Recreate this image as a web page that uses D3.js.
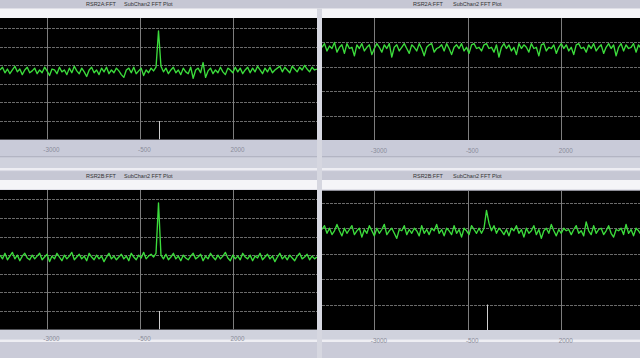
<!DOCTYPE html>
<html>
<head>
<meta charset="utf-8">
<script src="https://cdn.jsdelivr.net/npm/d3@7"></script>
<style>
  html, body { margin: 0; padding: 0; background: #cacbd8; }
  svg { display: block; font-family: "Liberation Sans", Arial, sans-serif; }
</style>
</head>
<body>
<div id="chart"></div>
<script>
// frequency ticks shared by all four plots
var tickHz = [-3000, -500, 2000];
var tickLabels = ["-3000", "-500", "2000"];
var markerHz = 0;

// horizontal grid levels (dB) for each plot
var gridTopLeft = [0, -20, -40, -60, -80, -100];
var gridBottomLeft = [20, 0, -20, -40, -60, -80, -100];
var gridTopRight = [-20, -40, -60, -80];
var gridBottomRight = [0, -20, -40, -60, -80];

// FFT levels (dB), one value per bin
var rsr2aLeft = [
  -45,-42,-48,-44,-49,-45,-41,-47,-44,-50,-45,-42,-48,-46,-43,-49,
  -45,-48,-42,-46,-51,-44,-45,-49,-42,-47,-45,-50,-43,-48,-41,-46,
  -49,-43,-47,-52,-45,-42,-48,-45,-50,-43,-47,-42,-49,-45,-48,-43,
  -46,-50,-53,-45,-43,-48,-42,-49,-46,-43,-51,-45,-48,-43,-46,-42,
   -3,-41,-47,-43,-49,-45,-42,-48,-45,-50,-43,-47,-49,-42,-54,-45,
  -43,-48,-37,-53,-46,-43,-49,-45,-48,-42,-47,-50,-43,-45,-48,-42,
  -47,-43,-49,-45,-42,-48,-43,-47,-41,-45,-49,-43,-47,-42,-48,-45,
  -43,-41,-47,-42,-45,-48,-41,-44,-47,-42,-45,-40,-44,-47,-42,-45,
  -44
];
var rsr2bLeft = [
  -40,-44,-38,-45,-41,-37,-44,-40,-46,-41,-38,-43,-45,-40,-44,-41,
  -38,-45,-42,-39,-47,-41,-44,-38,-42,-46,-40,-44,-41,-37,-45,-42,
  -39,-44,-41,-46,-38,-42,-45,-40,-44,-41,-47,-42,-38,-44,-41,-45,
  -42,-39,-44,-41,-46,-38,-42,-45,-40,-43,-37,-44,-41,-39,-42,-38,
   16,-40,-44,-39,-45,-42,-38,-44,-41,-46,-40,-43,-45,-41,-38,-44,
  -42,-39,-46,-41,-44,-38,-42,-45,-40,-44,-41,-37,-43,-46,-40,-44,
  -41,-45,-38,-42,-44,-40,-46,-41,-43,-38,-45,-42,-39,-44,-41,-47,
  -42,-38,-44,-41,-45,-40,-43,-46,-41,-38,-44,-42,-39,-45,-41,-44,
  -42
];
var rsr2aRight = [
  -24,-21,-27,-23,-25,-20,-28,-24,-22,-29,-21,-25,-24,-31,-22,-25,
  -21,-27,-24,-22,-30,-25,-21,-24,-28,-22,-25,-21,-32,-24,-22,-27,
  -24,-21,-25,-29,-22,-24,-27,-21,-25,-31,-24,-22,-21,-28,-25,-24,
  -22,-27,-21,-25,-30,-24,-22,-25,-21,-27,-24,-29,-22,-21,-25,-24,
  -27,-22,-21,-25,-24,-28,-22,-32,-24,-21,-25,-22,-27,-24,-30,-21,
  -25,-22,-24,-28,-21,-25,-24,-31,-22,-21,-27,-24,-25,-22,-29,-24,
  -21,-25,-22,-27,-24,-30,-22,-21,-25,-24,-28,-22,-25,-21,-27,-24,
  -22,-29,-24,-21,-25,-22,-31,-24,-21,-27,-22,-25,-24,-21,-28,-22,
  -25,-21,-27,-24,-22
];
var rsr2bRight = [
  -21,-18,-24,-20,-25,-22,-17,-22,-26,-20,-24,-21,-18,-25,-22,-20,
  -27,-21,-24,-18,-22,-26,-20,-24,-21,-17,-25,-22,-20,-24,-28,-21,
  -22,-18,-25,-21,-24,-20,-22,-26,-18,-24,-21,-25,-20,-22,-17,-24,
  -21,-26,-20,-22,-25,-18,-24,-21,-27,-20,-22,-25,-18,-21,-24,-20,
  -24,-20, -6,-16,-22,-18,-24,-20,-22,-25,-21,-26,-20,-22,-18,-24,
  -21,-27,-20,-24,-22,-18,-25,-21,-28,-22,-20,-24,-17,-22,-26,-21,
  -24,-20,-22,-21,-25,-21,-18,-24,-22,-26,-15,-22,-25,-18,-24,-21,
  -20,-25,-22,-18,-24,-27,-21,-22,-20,-25,-17,-24,-21,-26,-20,-22,
  -25,-21,-24,-20,-22
];

var W = 640, H = 358;

var svg = d3.select("#chart").append("svg")
    .attr("width", W)
    .attr("height", H);

// window chrome: title bars, white strips, label bands
function chrome(top){
  var bands = [
    { y: top,        h: 8.5,  c: "#c6c7d4" },
    { y: top + 8.5,  h: 9.5,  c: "#f5f5f8" },
    { y: top + 139.6,h: 16.4, c: "#c9cbd9" },
    { y: top + 156,  h: 1.5,  c: "#b3b5c3" },
    { y: top + 157.5,h: 10.5, c: "#d0d2dd" },
    { y: top + 168,  h: 2.5,  c: "#eeeef3" }
  ];
  svg.selectAll(null).data(bands).enter().append("rect")
      .attr("x", 0)
      .attr("y", function(d){ return d.y; })
      .attr("width", W)
      .attr("height", function(d){ return d.h; })
      .attr("fill", function(d){ return d.c; });
}
chrome(0);
chrome(171.5);

svg.append("rect")
    .attr("x", 317).attr("y", 8.5)
    .attr("width", 5).attr("height", H)
    .attr("fill", "#d6d7e0");

function fftPanel(o){
  var g = svg.append("g");
  var id = "clip" + o.key;

  var bin = d3.scaleLinear().domain([0, o.levels.length - 1]).range(o.hz);
  var x = d3.scaleLinear().domain(o.hz).range([o.x0, o.x1]);
  var y = d3.scaleLinear().domain(o.db).range([o.y1, o.y0]);
  var right = Math.min(o.x1, W);

  // title
  g.append("text")
      .attr("x", o.titleX).attr("y", o.titleY)
      .attr("font-size", "5.5px").attr("fill", "#333")
      .text(o.name);
  g.append("text")
      .attr("x", o.titleX + (o.x0 === 0 ? 38 : 40)).attr("y", o.titleY)
      .attr("font-size", "5.5px").attr("fill", "#333")
      .text("SubChan2 FFT Plot");

  g.append("clipPath").attr("id", id)
    .append("rect")
      .attr("x", o.x0).attr("y", o.y0)
      .attr("width", right - o.x0).attr("height", o.y1 - o.y0);

  g.append("rect")
      .attr("x", o.x0).attr("y", o.y0)
      .attr("width", right - o.x0).attr("height", o.y1 - o.y0)
      .attr("fill", "#000");

  var plot = g.append("g").attr("clip-path", "url(#" + id + ")");

  plot.selectAll(".hgrid").data(o.grid).enter().append("line")
      .attr("class", "hgrid")
      .attr("x1", o.x0).attr("x2", right)
      .attr("y1", function(d){ return Math.round(y(d)) + 0.5; })
      .attr("y2", function(d){ return Math.round(y(d)) + 0.5; })
      .attr("stroke", "#6a6a6a")
      .attr("stroke-dasharray", "3,1");

  plot.selectAll(".vgrid").data(tickHz).enter().append("line")
      .attr("class", "vgrid")
      .attr("x1", function(d){ return Math.round(x(d)) + 0.5; })
      .attr("x2", function(d){ return Math.round(x(d)) + 0.5; })
      .attr("y1", o.y0).attr("y2", o.y1)
      .attr("stroke", "#7d7d7d");

  if (o.marker){
    var lowest = d3.min(o.grid);
    plot.append("line")
        .attr("x1", Math.round(x(markerHz)) + 0.5)
        .attr("x2", Math.round(x(markerHz)) + 0.5)
        .attr("y1", y(lowest)).attr("y2", o.y1)
        .attr("stroke", "#cfcfcf");
  }

  var line = d3.line()
      .x(function(d, i){ return x(bin(i)); })
      .y(function(d){ return y(d); });

  plot.append("path")
      .datum(o.levels)
      .attr("d", line)
      .attr("fill", "none")
      .attr("stroke", "#3cdc3c")
      .attr("stroke-width", 1.35)
      .attr("stroke-linejoin", "round");

  var axis = d3.axisBottom(x)
      .tickValues(tickHz)
      .tickFormat(function(d, i){ return tickLabels[i]; })
      .tickSize(0)
      .tickPadding(0);

  var ax = g.append("g")
      .attr("transform", "translate(4," + o.labelY + ")")
      .call(axis);
  ax.select(".domain").remove();
  ax.selectAll("text")
      .attr("dy", 0)
      .attr("font-size", "6.3px")
      .attr("font-family", "Liberation Sans, Arial, sans-serif")
      .attr("fill", "#8a8c99");
}

fftPanel({ key: "tl", name: "RSR2A:FFT", titleX: 86, titleY: 6.3,
  x0: 0, x1: 317, y0: 18, y1: 139.6, hz: [-4260, 4260], db: [-120, 11],
  grid: gridTopLeft, levels: rsr2aLeft, marker: true, labelY: 151.5 });

fftPanel({ key: "tr", name: "RSR2A:FFT", titleX: 413, titleY: 6.3,
  x0: 322, x1: 651, y0: 18, y1: 140, hz: [-4400, 4400], db: [-100, 0],
  grid: gridTopRight, levels: rsr2aRight, marker: false, labelY: 152.5 });

fftPanel({ key: "bl", name: "RSR2B:FFT", titleX: 86, titleY: 178,
  x0: 0, x1: 317, y0: 190, y1: 329.6, hz: [-4260, 4260], db: [-120, 30],
  grid: gridBottomLeft, levels: rsr2bLeft, marker: true, labelY: 340.5 });

fftPanel({ key: "br", name: "RSR2B:FFT", titleX: 413, titleY: 178,
  x0: 322, x1: 651, y0: 190.7, y1: 330, hz: [-4400, 4400], db: [-100, 9.5],
  grid: gridBottomRight, levels: rsr2bRight, marker: true, labelY: 342.5 });
</script>
</body>
</html>
